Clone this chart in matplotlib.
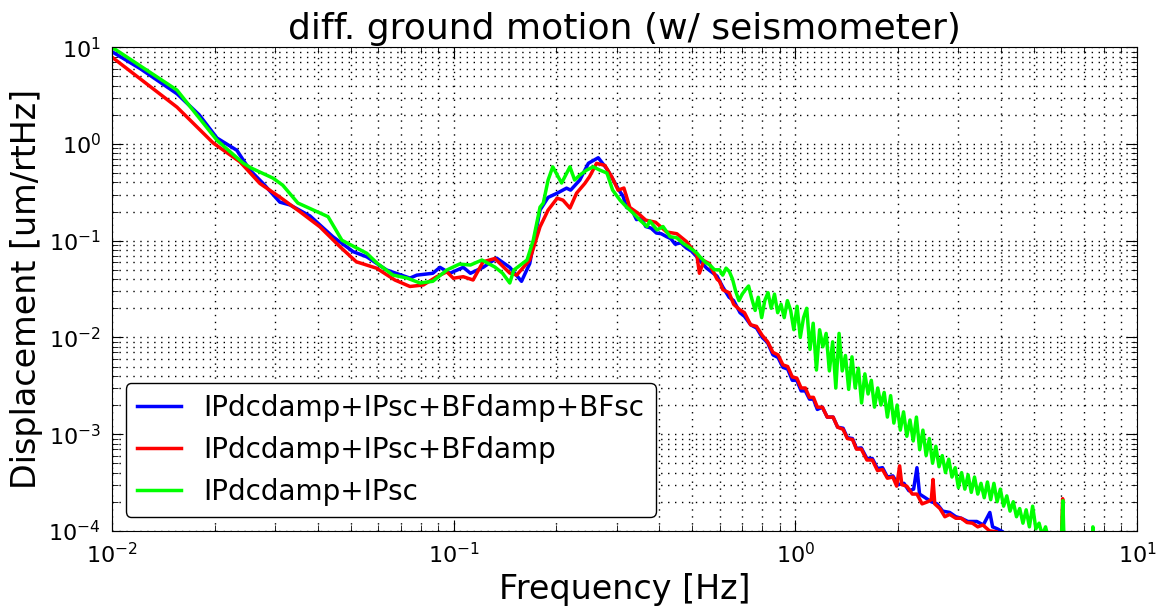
import numpy as np
import matplotlib
matplotlib.use("Agg")
import matplotlib.pyplot as plt

labels = ["IPdcdamp+IPsc+BFdamp+BFsc", "IPdcdamp+IPsc+BFdamp", "IPdcdamp+IPsc"]
colors = ["#0000ff", "#ff0000", "#00ff00"]

# blue: IPdcdamp+IPsc+BFdamp+BFsc
f_blue = [0.0100, 0.0121, 0.0155, 0.0180, 0.0203, 0.0232, 0.0253, 0.0277, 0.0310, 0.0332,
          0.0380, 0.0443, 0.0508, 0.0557, 0.0637, 0.0745, 0.0780, 0.0869, 0.0912, 0.0975,
          0.1067, 0.112, 0.122, 0.1336, 0.146, 0.158, 0.167, 0.179, 0.189, 0.201,
          0.214, 0.220, 0.234, 0.248, 0.265, 0.281, 0.296, 0.305, 0.313, 0.321,
          0.332, 0.343, 0.354, 0.365, 0.378, 0.392, 0.405, 0.42, 0.432, 0.445,
          0.462, 0.48, 0.497, 0.515, 0.526, 0.55, 0.59, 0.614, 0.64, 0.66,
          0.689, 0.71, 0.74, 0.77, 0.80, 0.83, 0.86, 0.89, 0.92, 0.95,
          0.98, 1.01, 1.04, 1.07, 1.10, 1.13, 1.16, 1.20, 1.24, 1.29,
          1.33, 1.38, 1.42, 1.47, 1.51, 1.56, 1.62, 1.68, 1.74, 1.80,
          1.86, 1.93, 2.00, 2.08, 2.15, 2.22, 2.27, 2.31, 2.40, 2.50,
          2.60, 2.70, 2.83, 2.95, 3.06, 3.20, 3.40, 3.55, 3.71, 3.78,
          3.90, 4.05, 4.20]
v_blue = [9.0, 6.0, 3.3, 2.0, 1.15, 0.86, 0.54, 0.39, 0.25, 0.234,
          0.18, 0.11, 0.077, 0.068, 0.0497, 0.041, 0.044, 0.046, 0.053, 0.046,
          0.053, 0.046, 0.053, 0.066, 0.053, 0.038, 0.058, 0.207, 0.28, 0.31,
          0.349, 0.333, 0.423, 0.631, 0.72, 0.55, 0.40, 0.33, 0.29, 0.22,
          0.21, 0.165, 0.17, 0.14, 0.135, 0.12, 0.118, 0.11, 0.105, 0.092,
          0.095, 0.084, 0.078, 0.068, 0.062, 0.052, 0.043, 0.033, 0.026, 0.024,
          0.018, 0.0165, 0.0135, 0.0125, 0.0100, 0.0088, 0.0066, 0.0062, 0.0049, 0.0047,
          0.0036, 0.0036, 0.0028, 0.0028, 0.0023, 0.0023, 0.0018, 0.0019, 0.0015, 0.0015,
          0.00118, 0.00115, 0.00092, 0.00090, 0.00071, 0.00072, 0.00056, 0.00056, 0.00044, 0.00045,
          0.00036, 0.00037, 0.00030, 0.00031, 0.00026, 0.00027, 0.00045, 0.00024, 0.00022, 0.00020,
          0.00019, 0.00016, 0.000155, 0.00014, 0.000135, 0.000125, 0.000125, 0.000115, 0.000155, 0.00011,
          0.000105, 0.0000977, 0.00008]

# red: IPdcdamp+IPsc+BFdamp
f_red = [0.0100, 0.0155, 0.0198, 0.0237, 0.0271, 0.0310, 0.0355, 0.0406, 0.0465, 0.0519,
         0.0595, 0.0673, 0.0745, 0.0815, 0.0892, 0.0955, 0.0998, 0.1067, 0.114, 0.122,
         0.132, 0.146, 0.153, 0.167, 0.179, 0.189, 0.201, 0.209, 0.219, 0.229,
         0.242, 0.250, 0.262, 0.277, 0.290, 0.303, 0.315, 0.328, 0.346, 0.365,
         0.39, 0.42, 0.45, 0.48, 0.515, 0.524, 0.54, 0.56, 0.59, 0.60,
         0.614, 0.64, 0.66, 0.689, 0.71, 0.74, 0.77, 0.80, 0.83, 0.86,
         0.89, 0.92, 0.95, 0.98, 1.01, 1.04, 1.07, 1.10, 1.13, 1.16,
         1.20, 1.24, 1.29, 1.33, 1.38, 1.42, 1.47, 1.51, 1.56, 1.62,
         1.68, 1.74, 1.80, 1.86, 1.93, 1.98, 2.02, 2.05, 2.12, 2.20,
         2.27, 2.35, 2.44, 2.50, 2.53, 2.56, 2.65, 2.74, 2.83, 2.95,
         3.06, 3.18, 3.30, 3.42, 3.54, 3.70, 3.89, 4.00, 4.30, 6.00,
         6.06, 6.10, 6.50]
v_red = [7.9, 2.4, 1.02, 0.653, 0.39, 0.282, 0.199, 0.139, 0.0865, 0.0605,
         0.0519, 0.0392, 0.0336, 0.0348, 0.0424, 0.0476, 0.0409, 0.0424, 0.0392, 0.0605,
         0.0654, 0.0462, 0.0441, 0.0631, 0.139, 0.207, 0.275, 0.262, 0.217, 0.31,
         0.39, 0.46, 0.63, 0.60, 0.46, 0.333, 0.35, 0.22, 0.193, 0.163,
         0.155, 0.123, 0.118, 0.098, 0.071, 0.046, 0.062, 0.058, 0.040, 0.038,
         0.031, 0.029, 0.022, 0.0192, 0.018, 0.0135, 0.0130, 0.0105, 0.0090, 0.0070,
         0.0066, 0.0052, 0.0050, 0.0039, 0.0038, 0.0030, 0.0030, 0.0024, 0.0024, 0.0019,
         0.0019, 0.0015, 0.0015, 0.00118, 0.00112, 0.00090, 0.00088, 0.00070, 0.00070, 0.00054,
         0.00054, 0.00042, 0.00043, 0.00035, 0.00036, 0.00029, 0.00047, 0.00030, 0.00029, 0.00024,
         0.00024, 0.00019, 0.00020, 0.00021, 0.00034, 0.00019, 0.00017, 0.00014, 0.000148, 0.000135,
         0.000135, 0.000122, 0.00012, 0.00011, 0.000115, 0.00010, 0.0000977, 0.00008, 0.00007, 0.00007,
         0.000215, 0.00007, 0.00006]

# green: IPdcdamp+IPsc
f_green = [0.0100, 0.0155, 0.0203, 0.0242, 0.0256, 0.0296, 0.0316, 0.0350, 0.0406, 0.0429,
           0.0471, 0.0557, 0.0597, 0.0664, 0.0730, 0.0797, 0.0869, 0.0955, 0.104, 0.112,
           0.121, 0.132, 0.139, 0.146, 0.150, 0.164, 0.171, 0.179, 0.183, 0.189,
           0.195, 0.207, 0.219, 0.226, 0.234, 0.245, 0.256, 0.268, 0.281, 0.292,
           0.307, 0.321, 0.335, 0.351, 0.368, 0.375, 0.394, 0.41, 0.43, 0.45,
           0.469, 0.49, 0.515, 0.526, 0.545, 0.562, 0.58,
           0.600, 0.613, 0.627, 0.641, 0.655, 0.669, 0.684, 0.699, 0.714, 0.730,
           0.746, 0.763, 0.779, 0.797, 0.814, 0.832, 0.850, 0.869, 0.888, 0.908,
           0.928, 0.948, 0.969, 0.990, 1.012, 1.034, 1.057, 1.080, 1.104, 1.128,
           1.153, 1.178, 1.204, 1.231, 1.258, 1.286, 1.314, 1.343, 1.372, 1.402,
           1.433, 1.465, 1.497, 1.530, 1.563, 1.598, 1.633, 1.669, 1.705, 1.743,
           1.781, 1.820, 1.860, 1.901, 1.943, 1.986, 2.029, 2.074, 2.120, 2.166,
           2.214, 2.262, 2.312, 2.363, 2.415, 2.468, 2.522, 2.578, 2.634, 2.692,
           2.751, 2.812, 2.874, 2.937, 3.001, 3.067, 3.135, 3.204, 3.274, 3.346,
           3.420, 3.495, 3.572, 3.650, 3.731, 3.813, 3.897, 3.982, 4.070, 4.159,
           4.251, 4.344, 4.440, 4.537, 4.637, 4.739, 4.843, 4.950, 5.059, 5.170,
           5.284, 5.400, 5.519, 5.90, 6.00, 6.07, 6.12, 7.00, 7.38, 7.43,
           7.48, 8.00]
v_green = [10.0, 3.6, 1.09, 0.634, 0.562, 0.443, 0.375, 0.245, 0.193, 0.177,
           0.101, 0.074, 0.0585, 0.0441, 0.0411, 0.0365, 0.0380, 0.0497, 0.0573, 0.056,
           0.0631, 0.0534, 0.0462, 0.0365, 0.0497, 0.0631, 0.101, 0.222, 0.245, 0.423,
           0.58, 0.394, 0.58, 0.423, 0.476, 0.536, 0.58, 0.536, 0.50, 0.333,
           0.262, 0.222, 0.193, 0.163, 0.14, 0.16, 0.129, 0.14, 0.11, 0.107,
           0.094, 0.085, 0.0745, 0.068, 0.060, 0.056, 0.050,
           0.050, 0.044, 0.052, 0.048, 0.040, 0.030, 0.024, 0.028, 0.031, 0.034,
           0.025, 0.019, 0.026, 0.016, 0.024, 0.029, 0.020, 0.028, 0.018, 0.022,
           0.016, 0.024, 0.019, 0.012, 0.021, 0.010, 0.016, 0.020, 0.0075, 0.014,
           0.0046, 0.012, 0.0080, 0.011, 0.0045, 0.0090, 0.0030, 0.0110, 0.0045, 0.0065,
           0.0029, 0.0063, 0.0030, 0.0048, 0.0021, 0.0042, 0.0026, 0.0036, 0.0019, 0.0030,
           0.0020, 0.0027, 0.0015, 0.0025, 0.0013, 0.0020, 0.0011, 0.0017, 0.00095, 0.0014,
           0.00085, 0.0015, 0.00069, 0.0011, 0.00060, 0.00090, 0.00050, 0.00075, 0.00046, 0.00060,
           0.00040, 0.00055, 0.00036, 0.00045, 0.00028, 0.00040, 0.00027, 0.00038, 0.00025, 0.00036,
           0.00024, 0.00031, 0.00022, 0.00032, 0.00021, 0.00031, 0.00020, 0.00027, 0.00018, 0.00023,
           0.00016, 0.00020, 0.00014, 0.00017, 0.00012, 0.000165, 0.00011, 0.00018, 0.000105, 0.00012,
           0.00009, 0.00011, 0.00008, 0.00007, 0.00007, 0.000205, 0.00007, 0.00006, 0.00006, 0.00011,
           0.00006, 0.00005]

fig = plt.figure(figsize=(11.59, 6.13), dpi=100)
ax = fig.add_axes([0.0966, 0.134, 0.8844, 0.789])

for f, v, c, lab in zip([f_blue, f_red, f_green], [v_blue, v_red, v_green], colors, labels):
    ax.loglog(f, v, color=c, lw=2.5, label=lab)

ax.set_xlim(1e-2, 1e1)
ax.set_ylim(1e-4, 1e1)
ax.grid(True, which="both", color="k", linestyle=(0, (1, 4)), linewidth=1.0)
ax.tick_params(which="both", direction="in", top=True, right=True, labelsize=16)
ax.tick_params(which="major", length=8, pad=8)
ax.tick_params(which="minor", length=4)
ax.set_xlabel("Frequency [Hz]", fontsize=24)
ax.set_ylabel("Displacement [um/rtHz]", fontsize=24)
ax.set_title("diff. ground motion (w/ seismometer)", fontsize=26)
leg = ax.legend(loc="lower left", fontsize=20, handlelength=1.6, fancybox=True)
leg.get_frame().set_edgecolor("k")
leg.get_frame().set_alpha(1)

fig.savefig("out.png", dpi=100)
